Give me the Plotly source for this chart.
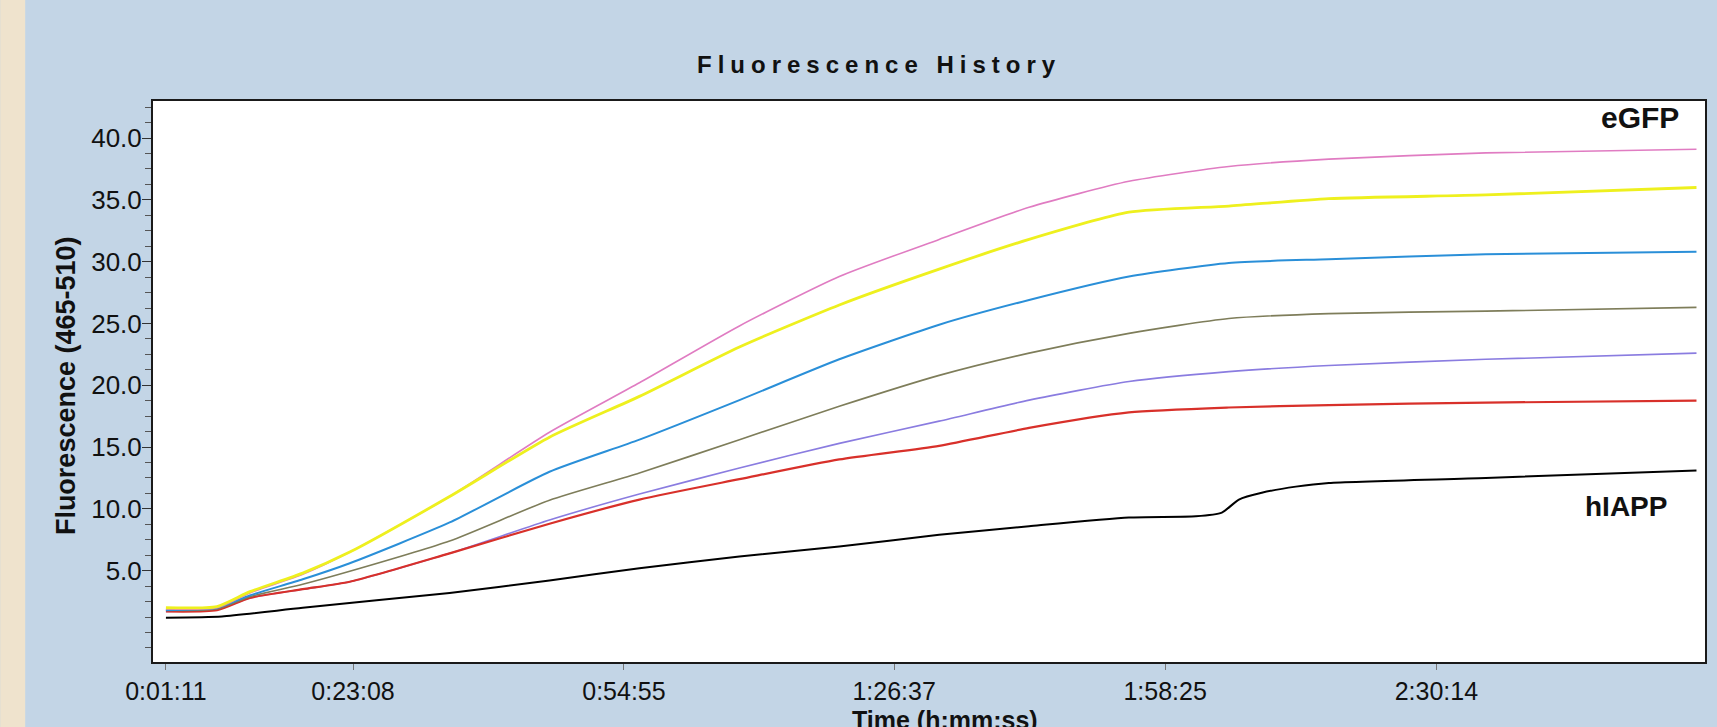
import plotly.graph_objects as go

# ---------------- data ----------------
# x tick labels (elapsed time, h:mm:ss)
time_labels = ["0:01:11", "0:23:08", "0:54:55", "1:26:37", "1:58:25", "2:30:14"]

# y tick labels
y_tick_values = [5, 10, 15, 20, 25, 30, 35, 40]

# acquisition times (s) at which values were read for the six eGFP curves
t_read = [71, 430, 662, 1034, 1365, 2068, 2771, 3404, 4108, 4811,
          5514, 6147, 6850, 7553, 8257, 9361, 10845]

pink   = [1.9, 2.0, 3.2, 4.7, 6.5, 11.0, 16.2, 20.2, 24.8, 28.8,
          31.8, 34.4, 36.5, 37.7, 38.3, 38.8, 39.1]
yellow = [2.0, 2.1, 3.3, 4.8, 6.5, 11.0, 15.8, 19.1, 23.1, 26.5,
          29.4, 31.8, 34.0, 34.5, 35.1, 35.4, 36.0]
blue   = [1.8, 2.0, 3.0, 4.3, 5.6, 8.9, 13.0, 15.6, 18.8, 22.1,
          24.9, 26.9, 28.8, 29.9, 30.2, 30.6, 30.8]
olive  = [1.8, 1.9, 2.9, 3.9, 4.95, 7.4, 10.7, 12.9, 15.6, 18.3,
          20.8, 22.6, 24.2, 25.4, 25.8, 26.0, 26.3]
purple = [1.7, 1.9, 2.8, 3.5, 4.1, 6.4, 9.1, 11.2, 13.3, 15.3,
          17.1, 18.8, 20.3, 21.1, 21.6, 22.1, 22.6]
red    = [1.7, 1.8, 2.8, 3.5, 4.1, 6.4, 8.8, 10.75, 12.4, 14.0,
          15.1, 16.55, 17.8, 18.2, 18.4, 18.6, 18.75]

# hIAPP curve (black), read at its own times
t_black = [71, 465, 1034, 2068, 2771, 3404, 4108, 4811, 5514, 6147,
           6850, 7321, 7504, 7624, 7785, 8025, 8257, 9361, 10845]
black   = [1.2, 1.3, 2.0, 3.2, 4.2, 5.2, 6.15, 6.95, 7.9, 8.6,
           9.3, 9.4, 9.7, 10.75, 11.3, 11.8, 12.1, 12.5, 13.1]

labels_text = {"top": "eGFP", "bottom": "hIAPP"}


def to_seconds(label):
    h, m, s = (int(p) for p in label.split(":"))
    return h * 3600 + m * 60 + s


tick_seconds = [to_seconds(l) for l in time_labels]

# ---------------- figure ----------------
W, H = 1717, 727
ML, MR, MT, MB = 153, 10, 101, 65
PW = W - ML - MR
PH = H - MT - MB

fig = go.Figure()

series = [
    ("hIAPP", t_black, black, "#000000", 2.0),
    ("purple", t_read, purple, "#8a7ce0", 1.6),
    ("red", t_read, red, "#d8302a", 2.2),
    ("olive", t_read, olive, "#7e7d5a", 1.6),
    ("blue", t_read, blue, "#2a8fd8", 2.0),
    ("pink", t_read, pink, "#e07cc2", 1.6),
    ("yellow", t_read, yellow, "#eef01e", 2.8),
]
for name, xs, ys, col, w in series:
    fig.add_trace(go.Scatter(
        x=xs, y=ys, mode="lines", name=name,
        line=dict(color=col, width=w, shape="spline", smoothing=0.6),
        showlegend=False, hoverinfo="skip"))

xtick_font = dict(family="Liberation Sans, Arial, sans-serif", size=25, color="#111111")
ytick_font = dict(family="Liberation Sans, Arial, sans-serif", size=26, color="#111111")

fig.update_xaxes(
    range=[-20, 10905],
    tickmode="array", tickvals=tick_seconds, ticktext=time_labels,
    ticks="outside", ticklen=6, tickcolor="#777777", tickwidth=1,
    showline=True, linecolor="#1a1a1a", linewidth=2, mirror=True,
    showgrid=False, zeroline=False, tickfont=xtick_font,
)
fig.update_yaxes(
    range=[-2.39, 43.0],
    tickmode="array", tickvals=y_tick_values,
    ticktext=[f"{v:.1f}" for v in y_tick_values],
    ticks="outside", ticklen=9, tickcolor="#333333", tickwidth=1,
    ticklabelstandoff=-5,
    minor=dict(tickmode="linear", tick0=0, dtick=1.25, ticks="outside",
               ticklen=6, tickcolor="#555555", tickwidth=1),
    showline=True, linecolor="#1a1a1a", linewidth=2, mirror=True,
    showgrid=False, zeroline=False, tickfont=ytick_font,
)


def px_to_paper_x(px):
    return (px - ML) / PW


def px_to_paper_y(py):
    return (H - MB - py) / PH


bold = "Liberation Sans, Arial, sans-serif"
annotations = [
    dict(text='<span style="letter-spacing:6px">Fluorescence History</span>',
         x=px_to_paper_x(880), y=px_to_paper_y(64), xanchor="center", yanchor="middle",
         font=dict(family=bold, size=24, color="#111111", weight="bold")),
    dict(text="Time (h:mm:ss)",
         x=px_to_paper_x(946), y=px_to_paper_y(704), xanchor="center", yanchor="top",
         font=dict(family=bold, size=25, color="#111111", weight="bold")),
    dict(text="Fluorescence (465-510)", textangle=-90,
         x=px_to_paper_x(66), y=px_to_paper_y(386), xanchor="center", yanchor="middle",
         font=dict(family=bold, size=27, color="#111111", weight="bold")),
    dict(text=labels_text["top"],
         x=px_to_paper_x(1642), y=px_to_paper_y(118), xanchor="center", yanchor="middle",
         font=dict(family=bold, size=30, color="#111111", weight="bold")),
    dict(text=labels_text["bottom"],
         x=px_to_paper_x(1628), y=px_to_paper_y(506), xanchor="center", yanchor="middle",
         font=dict(family=bold, size=28, color="#111111", weight="bold")),
]
for a in annotations:
    a.update(xref="paper", yref="paper", showarrow=False)

fig.update_layout(
    width=W, height=H,
    margin=dict(l=ML, r=MR, t=MT, b=MB, pad=0),
    paper_bgcolor="#c3d5e6",
    plot_bgcolor="#ffffff",
    annotations=annotations,
    shapes=[dict(type="rect", xref="paper", yref="paper",
                 x0=px_to_paper_x(0), x1=px_to_paper_x(25),
                 y0=px_to_paper_y(H), y1=px_to_paper_y(0),
                 fillcolor="#efe3cd", line=dict(width=0), layer="below")],
)

fig.write_html(
    "out.html",
    config={"displayModeBar": False},
    post_script="document.body.style.margin='0';document.body.style.overflow='hidden';",
)
